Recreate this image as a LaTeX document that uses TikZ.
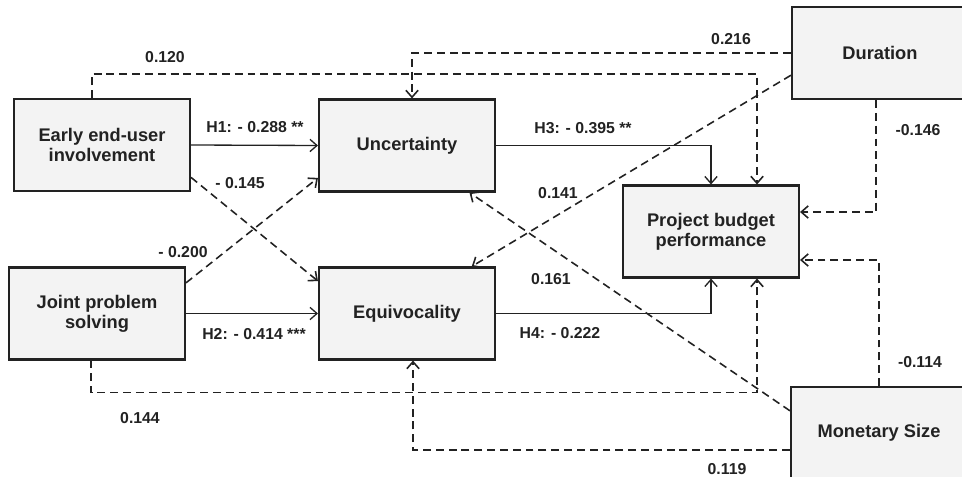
\documentclass[tikz,border=0pt]{standalone}
\usepackage{fontspec}
\setmainfont{Liberation Sans}
\usetikzlibrary{calc,arrows.meta}
\definecolor{boxgray}{HTML}{F3F3F3}
\definecolor{inkgray}{HTML}{222222}

\begin{document}
\begin{tikzpicture}[x=0.02cm, y=-0.02cm,
    every node/.style={font=\bfseries\fontsize{9}{11}\selectfont, text=inkgray},
    construct/.style={draw=inkgray, fill=boxgray, line width=1.2pt,
      minimum width=3.52cm, minimum height=1.84cm, align=center, inner sep=0pt,
      font=\bfseries\fontsize{10.4}{11.2}\selectfont},
    hyp/.style={draw=inkgray, line width=0.75pt, -{Straight Barb[length=4pt,width=7pt]}},
    ctrl/.style={hyp, line width=0.9pt, dash pattern=on 4.5pt off 2.8pt}]
		%%%%% START %%%%%
		
		\useasboundingbox (0,0) rectangle (962,476);
		\clip (0,0) rectangle (962,476);
		
		\node[construct] (early) at (102,145) {Early end-user\\involvement};
		\node[construct] (unc) at (407,145.5) {Uncertainty};
		\node[construct] (joint) at (97,313.5) {Joint problem\\solving};
		\node[construct] (equi) at (407,313.5) {Equivocality};
		\node[construct] (proj) at (711,231.5) {Project budget\\performance};
		\node[construct] (dur) at (880,53) {Duration};
		\node[construct] (mon) at (879,433) {Monetary Size};
		
		% hypotheses
		\draw[hyp] (early.east) -- (unc.west);
		\draw[hyp] (joint.east) -- (equi.west);
		\draw[hyp] (unc.east) -| (proj.north);
		\draw[hyp] (equi.east) -| (proj.south);
		
		% cross effects
		\draw[ctrl] (early.-20) -- (equi.160);
		\draw[ctrl] (joint.19) -- (unc.200);
		
		% controls
		\draw[ctrl] ($(early.north)+(-10,0)$) -- ++(0,-24) -| ($(proj.north)+(46,0)$);
		\draw[ctrl] ($(joint.south)+(-6,0)$) -- ++(0,32) -| ($(proj.south)+(46,0)$);
		\draw[ctrl] (dur.west) -| ($(unc.north)+(5,0)$);
		\draw[ctrl] (dur.194) -- (equi.36);
		\draw[ctrl] ($(dur.south)+(-4,0)$) |- ($(proj.east)+(0,-19.5)$);
		\draw[ctrl] (mon.166) -- (unc.-37);
		\draw[ctrl] (mon.north) |- ($(proj.east)+(0,28.5)$);
		\draw[ctrl] ($(mon.west)+(0,17)$) -| ($(equi.south)+(6,0)$);
		
		% coefficients
		\node (h1) at (255,127) {H1: - 0.288 **};
		\node (h2) at (254,334) {H2: - 0.414 ***};
		\node (h3) at (583,128) {H3: - 0.395 **};
		\node (h4) at (560,333) {H4: - 0.222};
		\node (c145) at (240,183) {- 0.145};
		\node (c200) at (183,252) {- 0.200};
		\node (c120) at (165,57) {0.120};
		\node (c144) at (140,418) {0.144};
		\node (c216) at (731,39) {0.216};
		\node (c141) at (558,193) {0.141};
		\node (c146) at (918,130) {-0.146};
		\node (c161) at (551,279) {0.161};
		\node (c114) at (920,362) {-0.114};
		\node (c119) at (727,469) {0.119};
		
		%%%%% END %%%%%
	\end{tikzpicture}
\end{document}
